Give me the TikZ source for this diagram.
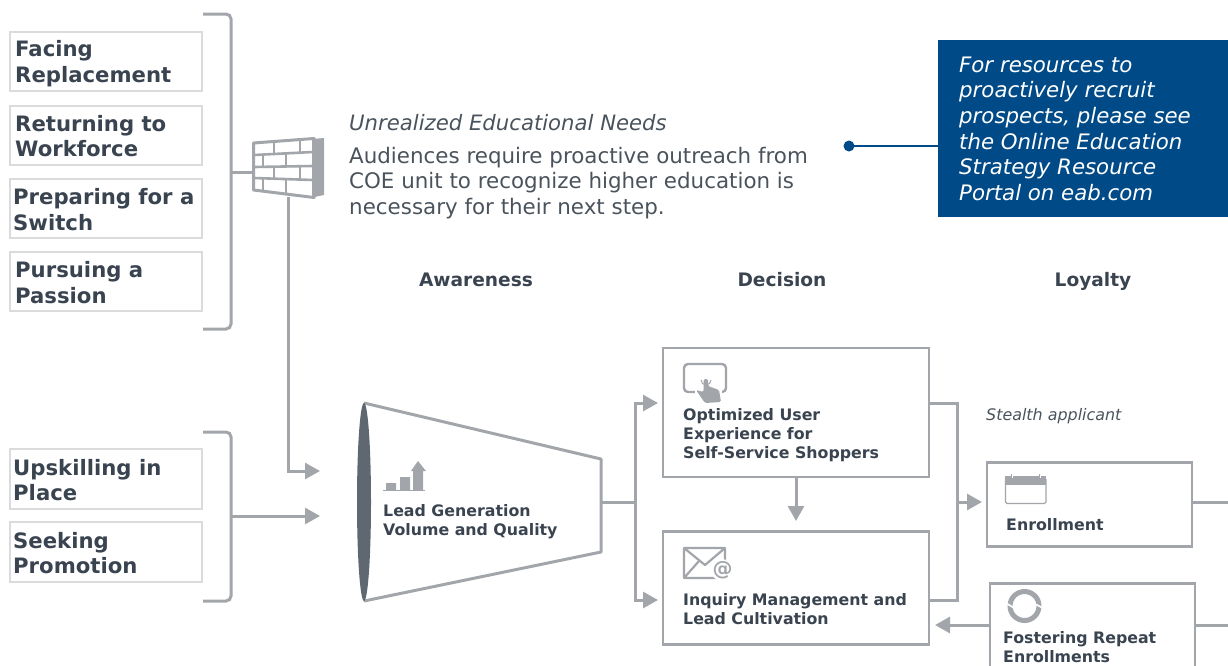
\documentclass[tikz,border=0pt]{standalone}
\usepackage{fontspec}
\setmainfont{DejaVu Sans}
\usetikzlibrary{arrows.meta,calc}
\definecolor{cgray}{HTML}{A2A6AB}
\definecolor{clight}{HTML}{D9DBDD}
\definecolor{cdark}{HTML}{3A4450}
\definecolor{cbody}{HTML}{4A535C}
\definecolor{cfun}{HTML}{5F6871}
\definecolor{cblue}{HTML}{004B87}
\tikzset{
  aud/.style={draw=clight,line width=2pt,fill=white,minimum width=192pt,minimum height=59.5pt,anchor=north west,inner sep=0pt},
  audtxt/.style={font=\fontsize{21.2}{25.5}\selectfont\bfseries,text=cdark,align=left,anchor=west,inner sep=0pt},
  stagebox/.style={draw=cgray,line width=2.8pt,fill=white,anchor=north west,inner sep=0pt},
  boxtxt/.style={font=\fontsize{15.8}{19}\selectfont\bfseries,text=cdark,align=left,anchor=north west,inner sep=0pt},
  head/.style={font=\fontsize{18.6}{21}\selectfont\bfseries,text=cdark,inner sep=0pt,anchor=base},
  conn/.style={draw=cgray,line width=3pt},
  arr/.style={conn,-{Triangle[length=15pt,width=16pt]}},
  brk/.style={conn,rounded corners=5pt},
}
\begin{document}
\begin{tikzpicture}[x=1pt,y=-1pt]
\useasboundingbox (0,0) rectangle (1228,665);
% audience boxes
\node[aud] (a1) at (9,30.5) {};
\node[aud] (a2) at (9,104.5) {};
\node[aud] (a3) at (9,177.5) {};
\node[aud] (a4) at (9,250.5) {};
\node[aud] (a5) at (9,448) {};
\node[aud] (a6) at (9,521) {};
\node[audtxt] (t1) at (15,63.5) {Facing\\Replacement};
\node[audtxt] (t2) at (15,136) {Returning to\\Workforce};
\node[audtxt] (t3) at (13,209.5) {Preparing for a\\Switch};
\node[audtxt] (t4) at (15,282.5) {Pursuing a\\Passion};
\node[audtxt] (t5) at (13,480) {Upskilling in\\Place};
\node[audtxt] (t6) at (13,553) {Seeking\\Promotion};
% brackets
\coordinate (b1a) at (203,14); \coordinate (b1b) at (231,14);
\coordinate (b1c) at (231,329); \coordinate (b1d) at (203,329);
\draw[brk] (b1a) -- (b1b) -- (b1c) -- (b1d);
\coordinate (b2a) at (203,432); \coordinate (b2b) at (231,432);
\coordinate (b2c) at (231,601); \coordinate (b2d) at (203,601);
\draw[brk] (b2a) -- (b2b) -- (b2c) -- (b2d);
% wall
\coordinate (wallL) at (253,172);
\coordinate (wallB) at (288,197);
\coordinate (b1m) at (231,172);
\coordinate (b2m) at (231,516);
\draw[conn] (b1m) -- (wallL);
\begin{scope}[line join=round]
\draw[cgray,line width=3pt,fill=white] (253.5,143) -- (314,138.5) -- (314,197.5) -- (253.5,190) -- cycle;
\fill[cgray] (312,139) -- (324,138) -- (324,195) -- (312,197.5) -- cycle;
\draw[cgray,line width=2.6pt] (254,155) -- (313,152) (254,167) -- (313,166) (254,178) -- (313,180);
\draw[cgray,line width=2.6pt] (274,143) -- (274,154) (300,141) -- (300,152)
 (263,155) -- (263,167) (286,154) -- (286,166)
 (274,167) -- (274,178) (300,166) -- (300,179)
 (263,178) -- (263,190) (286,180) -- (286,193);
\end{scope}
\coordinate (ar1) at (320,471);
\coordinate (ar2) at (320,516);
\draw[arr] (wallB) |- (ar1);
\draw[arr] (b2m) -- (ar2);
% intro text
\node[font=\fontsize{21.2}{25}\selectfont\itshape,text=cbody,anchor=west,inner sep=0pt] (needs) at (349,122.5) {Unrealized Educational Needs};
\node[font=\fontsize{21.4}{25.5}\selectfont,text=cbody,anchor=north west,align=left,inner sep=0pt] (aud) at (349,147) {Audiences require proactive outreach from\\COE unit to recognize higher education is\\necessary for their next step.};
% blue box
\node[fill=cblue,anchor=north west,minimum width=290pt,minimum height=177pt,inner sep=0pt] (blue) at (938,40) {};
\node[font=\fontsize{21.3}{25.6}\selectfont\itshape,text=white,anchor=north west,align=left,inner sep=0pt] (bluet) at (959,56.5) {For resources to\\proactively recruit\\prospects, please see\\the Online Education\\Strategy Resource\\Portal on eab.com};
\coordinate (dot) at (849,146);
\draw[cblue,line width=2.8pt] (dot) -- (dot-|blue.west);
\fill[cblue] (dot) circle (5.5);
% column heads
\node[head] (h1) at (476,286) {Awareness};
\node[head] (h2) at (782,286) {Decision};
\node[head] (h3) at (1093,286) {Loyalty};
% funnel
\coordinate (f1) at (364,403); \coordinate (f2) at (601,459);
\coordinate (f3) at (601,552); \coordinate (f4) at (364,601);
\draw[conn,line join=round] (f1) -- (f2) -- (f3) -- (f4);
\fill[cfun] (364,502) ellipse (7 and 99);
% funnel icon
\fill[cgray] (386,483) rectangle (396,490) (400,477) rectangle (410,490) (413,490) -- (413,471) -- (411,471) -- (418,461) -- (426,471) -- (423,471) -- (423,490) -- cycle;
\draw[cgray,line width=0.9pt] (383,490) -- (425,490);
\node[boxtxt] (ft) at (383,504) {Lead Generation\\Volume and Quality};
% stage boxes
\node[stagebox,minimum width=266pt,minimum height=129pt] (opt) at (661.5,346.5) {};
\node[stagebox,minimum width=266pt,minimum height=113pt] (inq) at (661.5,530) {};
\node[stagebox,minimum width=205pt,minimum height=84pt] (enr) at (985.5,461) {};
\node[stagebox,minimum width=205pt,minimum height=100pt] (fos) at (988.5,582) {};
\node[boxtxt] (optt) at (683,408) {Optimized User\\Experience for\\Self-Service Shoppers};
\node[boxtxt] (inqt) at (683,593) {Inquiry Management and\\Lead Cultivation};
\node[boxtxt] (enrt) at (1006,518) {Enrollment};
\node[boxtxt] (fost) at (1003,631) {Fostering Repeat\\Enrollments};
\node[font=\fontsize{15.9}{18}\selectfont\itshape,text=cbody,anchor=west,inner sep=0pt] (st) at (986,416) {Stealth applicant};
% connectors
\coordinate (sp) at (601,502);
\coordinate (v) at (635,502);
\coordinate (ta) at (658,403);
\coordinate (tb) at (658,600);
\draw[conn] (sp) -- (v);
\draw[arr] (v) |- (ta);
\draw[arr] (v) |- (tb);
\coordinate (mid) at (796,521);
\draw[arr] (opt.south-|mid) -- (mid);
\coordinate (r1) at (929,403); \coordinate (r2) at (957,403);
\coordinate (r3) at (957,600); \coordinate (r4) at (929,600);
\draw[conn] (r1) -- (r2) -- (r3) -- (r4);
\coordinate (rm) at (957,502); \coordinate (re) at (982,502);
\draw[arr] (rm) -- (re);
\coordinate (fa) at (935,625);
\draw[arr] (fos.west|-fa) -- (fa);
\coordinate (o1) at (1228,502); \coordinate (o2) at (1228,625);
\draw[conn] (enr.east|-o1) -- (o1);
\draw[conn] (fos.east|-o2) -- (o2);
% touch icon
\draw[cgray,line width=2.4pt,rounded corners=4pt] (684,364) rectangle (726,392);
\fill[white] (695,386) rectangle (722,403);
\fill[white] (699,371) rectangle (713,386);
\draw[cgray,line width=1pt] (701,380) arc (180:0:5);
\fill[cgray,rounded corners=1.5pt] (703.5,379) -- (708,379) -- (708,386) -- (719,390) -- (721,402) -- (705,403) -- (696,390) -- (703.5,392) -- cycle;
% envelope icon
\draw[cgray,line width=2.2pt,line join=round] (684,548) rectangle (725,578) (684,548) -- (705,565) -- (725,548) (684,578) -- (699,561);
\fill[white] (722,570) circle (11);
\node[font=\fontsize{20}{20}\selectfont\bfseries,text=cgray,inner sep=0pt] (atsym) at (722.5,570.5) {@};
% calendar icon
\draw[cgray,line width=1.2pt,rounded corners=1.5pt] (1005.5,478) rectangle (1046,503.5);
\fill[cgray] (1005,476) rectangle (1046,485);
\draw[cgray,line width=2.2pt] (1012,473.5) -- (1012,478) (1040,473.5) -- (1040,478);
\draw[white,line width=0.7pt] (1012,473) -- (1012,478) (1040,473) -- (1040,478);
% cycle icon
\draw[cgray,line width=5pt] (1024.5,606) circle (14.5);
\draw[white,line width=1.6pt] (1006,603) -- (1014,608) (1035,604) -- (1043,608);
\end{tikzpicture}
\end{document}
